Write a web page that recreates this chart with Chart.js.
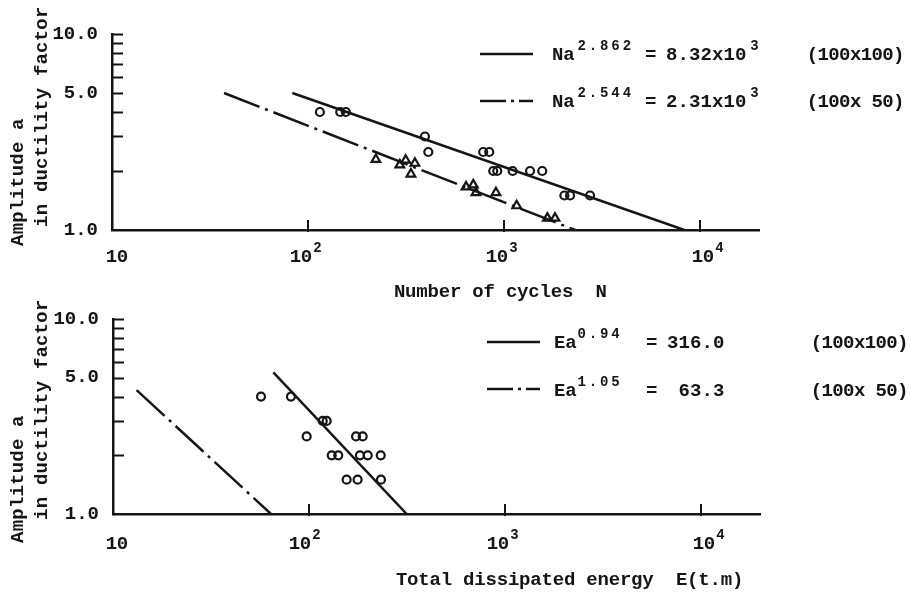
<!DOCTYPE html>
<html>
<head>
<meta charset="utf-8">
<script src="https://cdn.jsdelivr.net/npm/chart.js@4.4.1/dist/chart.umd.min.js"></script>
<style>
 html, body { margin: 0; padding: 0; background: #fff; }
 #wrap { position: relative; width: 910px; height: 593px; overflow: hidden; }
 canvas { position: absolute; left: 0; }
 #chartN { top: 0; }
 #chartE { top: 290px; }
</style>
</head>
<body>
<div id="wrap">
 <canvas id="chartN" width="910" height="310"></canvas>
 <canvas id="chartE" width="910" height="303"></canvas>
</div>
<script>
'use strict';

// upper panel : amplitude a against number of cycles N
var cyclesSquare = [115, 146, 156, 395, 411, 783, 841, 881, 924, 1107, 1358, 1567, 2032, 2173, 2748];
var ampSquare    = [4.0, 4.0, 4.0, 3.0, 2.5, 2.5, 2.5, 2.0, 2.0, 2.0, 2.0, 2.0, 1.5, 1.5, 1.5];
var cyclesHalf   = [222, 294, 315, 351, 335, 640, 697, 719, 910, 1161, 1664, 1820];
var ampHalf      = [2.29, 2.15, 2.27, 2.19, 1.93, 1.66, 1.70, 1.55, 1.55, 1.33, 1.15, 1.15];
var fitCyclesSquare = [83.2, 8320];   // N a^2.862 = 8.32x10^3
var fitCyclesHalf   = [37.3, 2310];   // N a^2.544 = 2.31x10^3
var fitAmpN         = [5.0, 1.0];

// lower panel : amplitude a against dissipated energy E
var energySquare = [56.9, 80.9, 117.5, 123.1, 97.3, 173.8, 187.9, 130.6, 141.0, 181.9, 199.4, 232.3, 155.6, 177.0, 232.9];
var ampEnergy    = [4.0, 4.0, 3.0, 3.0, 2.5, 2.5, 2.5, 2.0, 2.0, 2.0, 2.0, 2.0, 1.5, 1.5, 1.5];
var fitEnergySquare = [65.8, 315];    // E a^0.94 = 316.0
var fitAmpESquare   = [5.33, 1.0];
var fitEnergyHalf   = [13.2, 64];     // E a^1.05 = 63.3
var fitAmpEHalf     = [4.32, 1.0];

// axes
var ampTicks       = [1, 2, 3, 4, 5, 6, 7, 8, 9, 10];
var ampLabelValues = [1, 5, 10];
var ampLabelTexts  = ['1.0', '5.0', '10.0'];
var decadeTicks    = [10, 100, 1000, 10000];
var decadeExp      = ['', '2', '3', '4'];

// legend texts
var specimens = ['(100x100)', '(100x 50)'];
var expN = ['2.862', '2.544'];
var rhsN = ['8.32x10', '2.31x10'];
var expE = ['0.94', '1.05'];
var rhsE = ['316.0', ' 63.3'];

var INK = '#151515';
var FONT = '"Liberation Mono", "Courier New", monospace';
var DASHDOT = [38, 6, 3, 6];

function pts(xs, ys) {
  return xs.map(function (x, i) { return {x: x, y: ys[i]}; });
}

// typewriter style: every char in its own cell
function typeText(ctx, str, x, y, pitch, size) {
  ctx.font = 'bold ' + size + 'px ' + FONT;
  ctx.textAlign = 'center';
  ctx.textBaseline = 'alphabetic';
  for (var i = 0; i < str.length; i++) {
    if (str[i] !== ' ') ctx.fillText(str[i], x + i * pitch + pitch / 2, y);
  }
}

function typeUp(ctx, str, x, y, pitch, size) {
  ctx.save();
  ctx.translate(x, y);
  ctx.rotate(-Math.PI / 2);
  typeText(ctx, str, 0, 0, pitch, size);
  ctx.restore();
}

function legendLine(ctx, x1, x2, y, dashed) {
  ctx.save();
  ctx.lineWidth = 2.5;
  ctx.setLineDash(dashed ? [26, 5, 3, 5] : []);
  ctx.beginPath();
  ctx.moveTo(x1, y);
  ctx.lineTo(x2, y);
  ctx.stroke();
  ctx.restore();
}

function paperPlugin(panel) {
  return {
    id: 'paper_' + panel.name,
    afterDraw: function (chart) {
      var ctx = chart.ctx, xs = chart.scales.x, ys = chart.scales.y, area = chart.chartArea;
      ctx.save();
      ctx.strokeStyle = INK;
      ctx.fillStyle = INK;
      ctx.lineWidth = 2;

      // amplitude ticks point into the plot
      ampTicks.forEach(function (v) {
        if (v === 1) return;
        var py = Math.round(ys.getPixelForValue(v)) + 0.5;
        ctx.beginPath();
        ctx.moveTo(area.left, py);
        ctx.lineTo(area.left + 11, py);
        ctx.stroke();
      });

      // decade ticks + labels 10, 10^2 ...
      decadeTicks.forEach(function (v, i) {
        var px = Math.round(xs.getPixelForValue(v));
        if (i > 0) {
          ctx.beginPath();
          ctx.moveTo(px, area.bottom + 2);
          ctx.lineTo(px, area.bottom - 10);
          ctx.stroke();
        }
        var lx = px + panel.nudge[i] - 1;
        typeText(ctx, '10', lx, area.bottom + panel.labelDrop, 11, 19);
        if (decadeExp[i]) typeText(ctx, decadeExp[i], lx + 23, area.bottom + panel.labelDrop - 10, 9, 14);
      });

      // axis titles
      typeText(ctx, panel.xTitle, panel.xTitleX, panel.xTitleY, 11.2, 19);
      typeUp(ctx, 'Amplitude a', 23, panel.yTitleY[0], 11.6, 19);
      typeUp(ctx, 'in ductility factor', 47, panel.yTitleY[1], 11.6, 19);

      // legend rows
      for (var r = 0; r < 2; r++) {
        var lg = panel.legend;
        legendLine(ctx, lg.lineX[0], lg.lineX[1], lg.lineY[r], r === 1);
        var b = lg.base[r];
        typeText(ctx, lg.sym, lg.symX, b, 11.3, 19);
        typeText(ctx, lg.exp[r], lg.expX, b - 10, 11.3, 14);
        typeText(ctx, '=', lg.eqX, b, 11.3, 19);
        typeText(ctx, lg.rhs[r], lg.rhsX, b, lg.rhsPitch, 19);
        if (lg.rhsExp) typeText(ctx, lg.rhsExp, lg.rhsExpX, b - 10, 9, 14);
        typeText(ctx, specimens[r], lg.specX, b, 10.8, 19);
      }
      ctx.restore();
    }
  };
}

function makeChart(id, datasets, panel) {
  return new Chart(document.getElementById(id), {
    type: 'scatter',
    data: { datasets: datasets },
    options: {
      responsive: false,
      animation: false,
      devicePixelRatio: 1,
      events: [],
      layout: { padding: { top: panel.top, right: panel.right, left: 0, bottom: 0 } },
      plugins: { legend: { display: false }, tooltip: { enabled: false } },
      scales: {
        x: {
          type: 'logarithmic', min: 10, max: 20000,
          grid: { display: false },
          border: { color: INK, width: 2.5 },
          ticks: { display: false },
          afterFit: function (s) { s.height = panel.xHeight; }
        },
        y: {
          type: 'logarithmic', min: 1, max: 10,
          grid: { display: false },
          border: { color: INK, width: 2.5 },
          ticks: {
            color: INK, padding: 6, autoSkip: false,
            font: { family: FONT, size: 19, weight: 'bold' },
            callback: function (v) {
              var k = ampLabelValues.indexOf(v);
              return k < 0 ? '' : ampLabelTexts[k];
            }
          },
          afterBuildTicks: function (s) {
            s.ticks = ampTicks.map(function (v) { return { value: v }; });
          },
          afterFit: function (s) { s.width = panel.left; }
        }
      }
    },
    plugins: [paperPlugin(panel)]
  });
}

function marks(data, style, r) {
  return {
    data: data, pointStyle: style, pointRadius: r, pointHoverRadius: r,
    borderColor: INK, backgroundColor: 'rgba(0,0,0,0)', borderWidth: 2.2
  };
}

function fit(data, dashed) {
  return {
    data: data, showLine: true, pointRadius: 0, pointHoverRadius: 0,
    borderColor: INK, borderWidth: 2.5, borderDash: dashed ? DASHDOT : [],
    fill: false
  };
}

makeChart('chartN', [
  marks(pts(cyclesSquare, ampSquare), 'circle', 4),
  marks(pts(cyclesHalf, ampHalf), 'triangle', 5),
  fit(pts(fitCyclesSquare, fitAmpN), false),
  fit(pts(fitCyclesHalf, fitAmpN), true)
], {
  name: 'N', left: 112, top: 34, right: 151, xHeight: 80,
  nudge: [-5, -17, -17, -7], labelDrop: 32,
  xTitle: 'Number of cycles  N', xTitleX: 394, xTitleY: 297,
  yTitleY: [246, 227],
  legend: {
    lineX: [480, 533], lineY: [54, 101], base: [60, 107],
    sym: 'Na', symX: 552, exp: expN, expX: 576,
    eqX: 645, rhs: rhsN, rhsX: 666, rhsPitch: 11.5, rhsExp: '3', rhsExpX: 750,
    specX: 807
  }
});

makeChart('chartE', [
  marks(pts(energySquare, ampEnergy), 'circle', 4),
  fit(pts(fitEnergySquare, fitAmpESquare), false),
  fit(pts(fitEnergyHalf, fitAmpEHalf), true)
], {
  name: 'E', left: 113, top: 29, right: 150, xHeight: 79,
  nudge: [-6, -19, -17, -7], labelDrop: 35,
  xTitle: 'Total dissipated energy  E(t.m)', xTitleX: 396, xTitleY: 295,
  yTitleY: [253, 230],
  legend: {
    lineX: [487, 540], lineY: [52, 99], base: [58, 106],
    sym: 'Ea', symX: 554, exp: expE, expX: 576,
    eqX: 646, rhs: rhsE, rhsX: 667, rhsPitch: 11.5, rhsExp: '', rhsExpX: 0,
    specX: 811
  }
});
</script>
</body>
</html>
